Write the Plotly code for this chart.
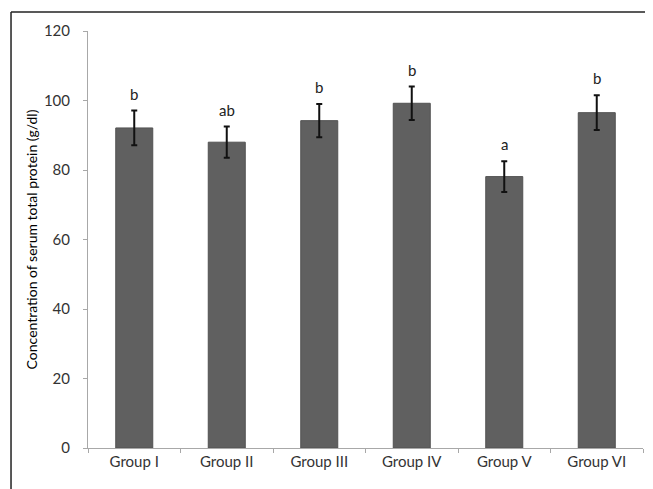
import plotly.graph_objects as go

groups = ["Group I", "Group II", "Group III", "Group IV", "Group V", "Group VI"]
means = [92.1, 88.0, 94.2, 99.2, 78.1, 96.5]
errors = [5.0, 4.5, 4.8, 4.8, 4.4, 5.0]
letters = ["b", "ab", "b", "b", "a", "b"]
y_ticks = [0, 20, 40, 60, 80, 100, 120]

FONT = "Lato, Open Sans, sans-serif"

fig = go.Figure()
fig.add_trace(go.Bar(
    x=groups, y=means,
    width=0.4,
    marker=dict(color="#606060", line=dict(color="#525252", width=1)),
    error_y=dict(type="data", array=errors, visible=True, color="#111111",
                 thickness=2, width=3),
))

for g, m, e, t in zip(groups, means, errors, letters):
    fig.add_annotation(x=g, y=m + e, text=t, showarrow=False, yanchor="bottom",
                       yshift=6, font=dict(family=FONT, size=15, color="#222"))

# page body adds an 8px offset, so the figure is 8px smaller than the window
fig.update_layout(
    width=645, height=481,
    margin=dict(l=80, r=10, t=23, b=41, autoexpand=False),
    paper_bgcolor="white", plot_bgcolor="white",
    showlegend=False,
    font=dict(family=FONT, size=15, color="#333"),
)
fig.update_xaxes(
    automargin=False,
    showline=True, linecolor="#a8a8a8", linewidth=1,
    ticks="outside", ticklen=4, tickcolor="#a8a8a8",
    tickson="boundaries", showgrid=False,
    tickfont=dict(family=FONT, size=15, color="#333"),
)
fig.update_yaxes(
    automargin=False,
    range=[0, 120], tickvals=y_ticks, showline=True, linecolor="#a8a8a8",
    linewidth=1, ticks="outside", ticklen=4, tickcolor="#a8a8a8",
    showgrid=False, zeroline=False, ticklabelstandoff=10,
    tickfont=dict(family=FONT, size=15, color="#333"),
    title=dict(text="Concentration of serum total protein (g/dl)",
               font=dict(family=FONT, size=14, color="#000"), standoff=2),
)

# outer frame (top and left edges)
fig.add_shape(type="line", xref="paper", yref="paper", x0=-0.1387, x1=1.05,
              y0=1.0456, y1=1.0456, line=dict(color="#222", width=1.5))
fig.add_shape(type="line", xref="paper", yref="paper", x0=-0.1387, x1=-0.1387,
              y0=-0.2, y1=1.0456, line=dict(color="#222", width=1.5))

fig.write_html("out.html")
